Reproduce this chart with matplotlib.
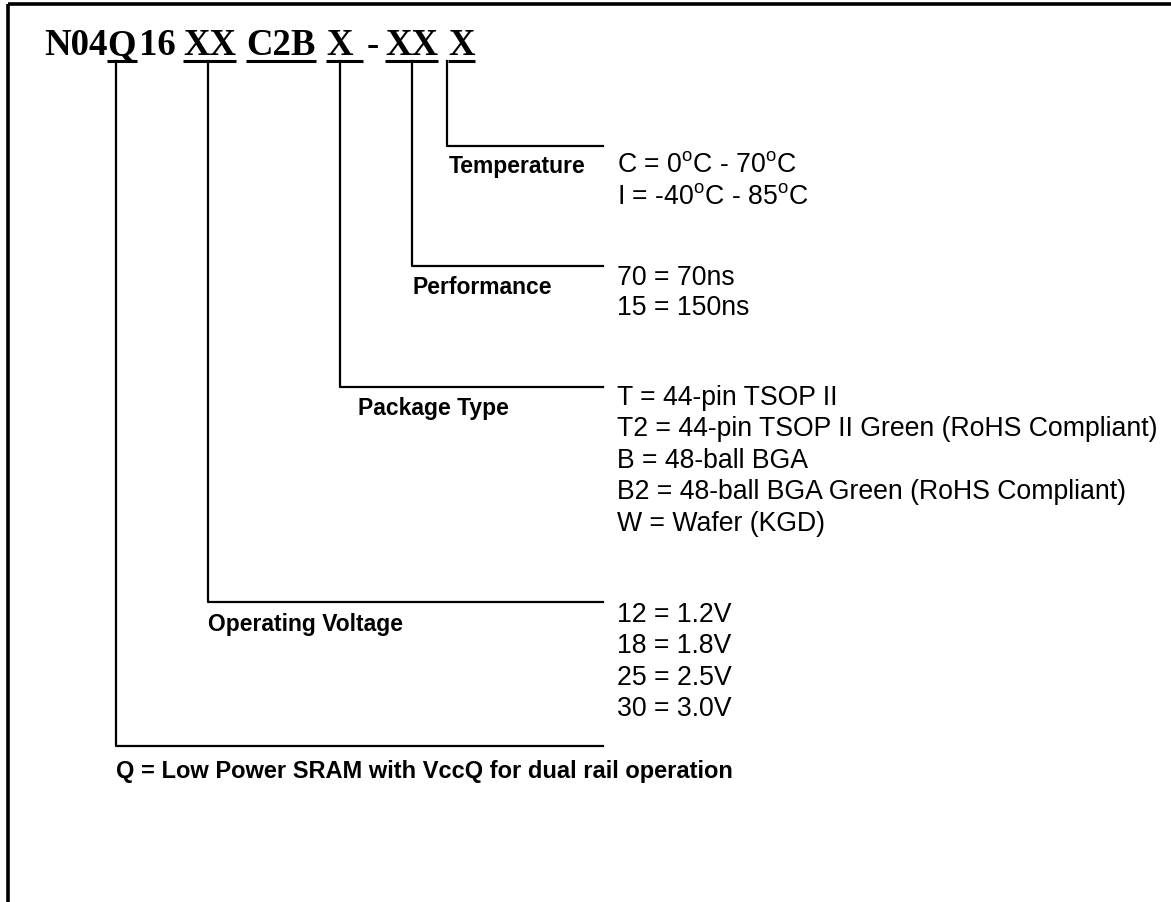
import matplotlib.pyplot as plt

plt.rcParams['font.family'] = ['Liberation Sans', 'DejaVu Sans']
plt.rcParams['mathtext.fontset'] = 'custom'
plt.rcParams['mathtext.rm'] = 'Liberation Sans'
plt.rcParams['mathtext.default'] = 'regular'

# Part number pieces (underlined pieces are the selectable fields)
title_parts = ['N04', 'Q', '16', 'XX', 'C2B', 'X', '-', 'XX', 'X']
title_underlined = [False, True, False, True, True, True, False, True, True]

# Field names and their codes
field_names = ['Temperature', 'Performance', 'Package Type', 'Operating Voltage']
temperature_codes = ['C = 0$^{o}$C - 70$^{o}$C', 'I = -40$^{o}$C - 85$^{o}$C']
performance_codes = ['70 = 70ns', '15 = 150ns']
package_codes = [
    'T = 44-pin TSOP II',
    'T2 = 44-pin TSOP II Green (RoHS Compliant)',
    'B = 48-ball BGA',
    'B2 = 48-ball BGA Green (RoHS Compliant)',
    'W = Wafer (KGD)',
]
voltage_codes = ['12 = 1.2V', '18 = 1.8V', '25 = 2.5V', '30 = 3.0V']
q_note = 'Q = Low Power SRAM with VccQ for dual rail operation'

field_codes = [temperature_codes, performance_codes, package_codes, voltage_codes]

# Layout (pixel coordinates)
title_x = [44, 107, 139, 183, 246, 326, 367, 385, 448]
title_pad = [0, 1, 0, 0, 1, 10, 0, 0, 0]   # extra underline length
branch_x = [447, 412, 340, 208]
branch_y = [147, 267, 388, 603]
label_x = [449, 413, 358, 208]
label_y = [166, 288, 409, 625]
codes_y0 = [164, 277, 397, 614]
codes_step = [32, 30, 31.5, 31.5]
q_x, q_y = 116, 747
line_end = 603
codes_x = 617

fig = plt.figure(figsize=(11.71, 9.03), dpi=100)
ax = fig.add_axes([0, 0, 1, 1])
ax.set_xlim(0, 1171)
ax.set_ylim(903, 0)
ax.axis('off')

# frame (top and left only)
ax.plot([8, 1171], [5, 5], color='black', lw=2.6, solid_capstyle='butt')
ax.plot([8, 8], [5, 903], color='black', lw=2.6, solid_capstyle='butt')

# title with underlines
fig.canvas.draw()
renderer = fig.canvas.get_renderer()
inv = ax.transData.inverted()
for part, x, und, pad in zip(title_parts, title_x, title_underlined, title_pad):
    t = ax.text(x, 55, part, fontsize=26.5, fontweight='bold',
                family=['Liberation Serif'], va='baseline', ha='left')
    if und:
        bb = t.get_window_extent(renderer)
        (x0, _), (x1, _) = inv.transform([[bb.x0, bb.y0], [bb.x1, bb.y1]])
        ax.plot([x0, x1 + pad], [61.5, 61.5], color='black', lw=2.2, solid_capstyle='butt')

# Q branch
ax.plot([q_x, q_x, line_end], [62, q_y, q_y], color='black', lw=1.6)
ax.text(q_x, q_y + 25, q_note, fontsize=17, fontweight='bold', va='center', ha='left')

# other fields
for name, codes, bx, by, lx, ly, cy0, step in zip(field_names, field_codes, branch_x, branch_y,
                                                  label_x, label_y, codes_y0, codes_step):
    ax.plot([bx, bx, line_end], [62, by, by], color='black', lw=1.6)
    ax.text(lx, ly, name, fontsize=16.5, fontweight='bold', va='center', ha='left')
    for i, c in enumerate(codes):
        ax.text(codes_x, cy0 + i * step + 8, c, fontsize=19.2, va='baseline', ha='left')

fig.savefig('out.png', dpi=100)
